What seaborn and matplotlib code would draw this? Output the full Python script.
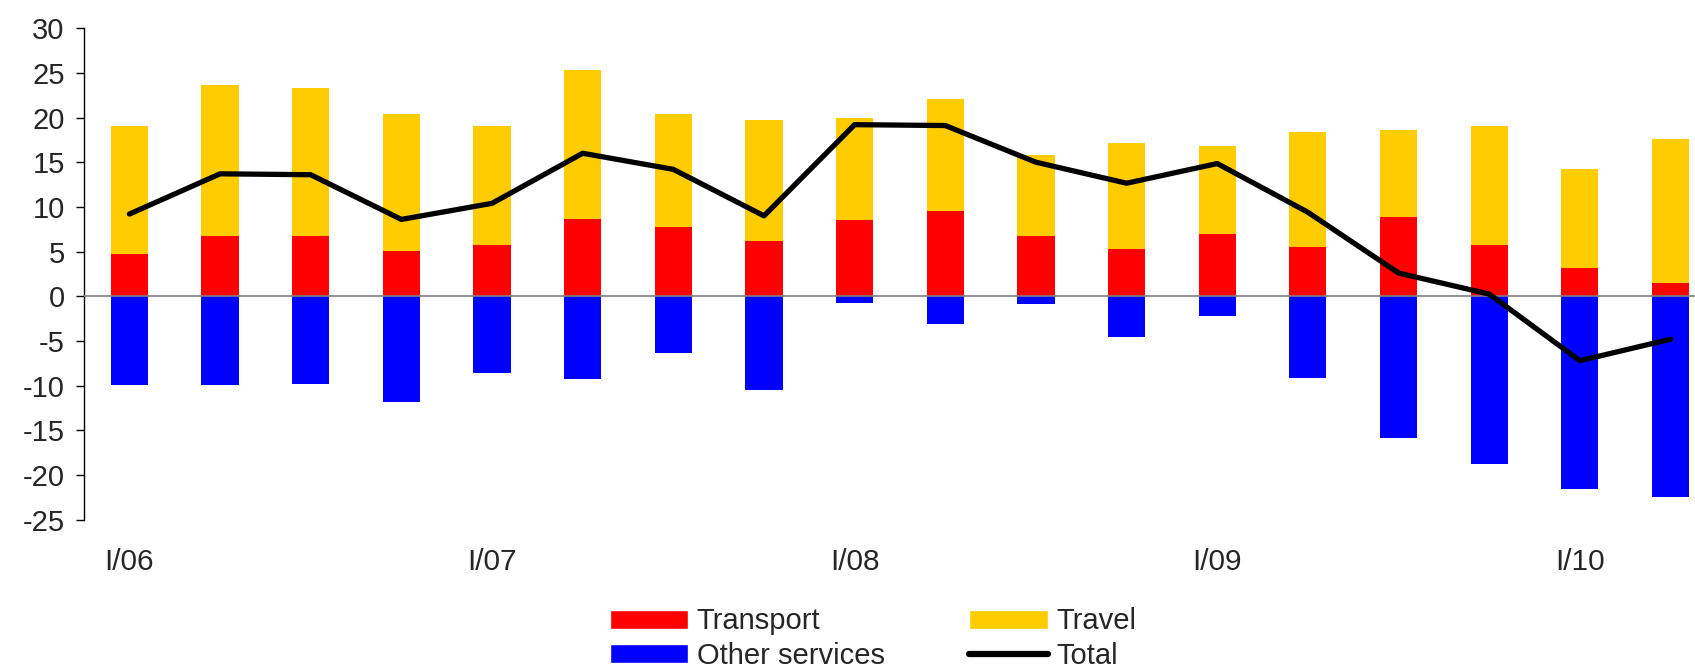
import numpy as np
import pandas as pd
import matplotlib
matplotlib.use("Agg")
import matplotlib.pyplot as plt
import seaborn as sns
from matplotlib.patches import Patch
from matplotlib.lines import Line2D

quarters = ["I/06", "II/06", "III/06", "IV/06",
            "I/07", "II/07", "III/07", "IV/07",
            "I/08", "II/08", "III/08", "IV/08",
            "I/09", "II/09", "III/09", "IV/09",
            "I/10", "II/10"]
transport = [4.7, 6.7, 6.7, 5.1, 5.7, 8.7, 7.75, 6.2, 8.5,
             9.55, 6.7, 5.3, 7.0, 5.5, 8.9, 5.7, 3.2, 1.5]
travel = [14.3, 16.9, 16.6, 15.3, 13.4, 16.6, 12.65, 13.5, 11.4,
          12.55, 9.15, 11.8, 9.85, 12.9, 9.7, 13.3, 11.0, 16.1]
other = [-9.9, -9.9, -9.8, -11.8, -8.6, -9.3, -6.3, -10.5, -0.8,
         -3.05, -0.9, -4.5, -2.15, -9.1, -15.9, -18.8, -21.5, -22.5]
total = [9.2, 13.7, 13.6, 8.6, 10.4, 16.0, 14.2, 9.0, 19.2,
         19.1, 15.0, 12.65, 14.85, 9.4, 2.6, 0.25, -7.2, -4.8]
tick_pos = [0, 4, 8, 12, 16]
tick_labels = ["I/06", "I/07", "I/08", "I/09", "I/10"]

df = pd.DataFrame({"quarter": quarters, "transport": transport,
                   "travel": travel, "other": other, "total": total})
df["top"] = df["transport"] + df["travel"]

RED = "#FF0000"
YELLOW = "#FFCC00"
BLUE = "#0000FF"

sns.set_style("white")
plt.rcParams["font.family"] = ["Liberation Sans", "DejaVu Sans"]
plt.rcParams["axes.unicode_minus"] = False

fig = plt.figure(figsize=(16.95, 6.69), dpi=100)
ax = fig.add_axes([0.0496, 0.223, 0.9504, 0.735])

# travel sits on transport: draw the full height in yellow, then transport over it
sns.barplot(data=df, x="quarter", y="top", color=YELLOW, width=0.41,
            saturation=1, linewidth=0, ax=ax, zorder=2)
sns.barplot(data=df, x="quarter", y="transport", color=RED, width=0.41,
            saturation=1, linewidth=0, ax=ax, zorder=3)
sns.barplot(data=df, x="quarter", y="other", color=BLUE, width=0.41,
            saturation=1, linewidth=0, ax=ax, zorder=3)
ax.axhline(0, color="#808080", lw=1.2, zorder=4)
sns.lineplot(x=np.arange(len(total)), y=total, color="black", lw=3.8,
             ax=ax, zorder=5, solid_capstyle="round")

ax.set_ylim(-25, 30)
ax.set_yticks(range(-25, 31, 5))
ax.set_xlim(-0.5, 17.27)
ax.set_xticks(tick_pos)
ax.set_xticklabels(tick_labels)
ax.set_xlabel("")
ax.set_ylabel("")

for s in ["top", "right", "bottom"]:
    ax.spines[s].set_visible(False)
ax.spines["left"].set_color("black")
ax.spines["left"].set_linewidth(1)
ax.tick_params(axis="y", direction="out", length=6, width=1, color="black",
               labelsize=21, pad=8, left=True)
ax.tick_params(axis="x", length=0, labelsize=21.5, pad=20)

# order so that rows read Transport/Travel, Other services/Total
handles = [Patch(facecolor=RED, label="Transport"),
           Patch(facecolor=BLUE, label="Other services"),
           Patch(facecolor=YELLOW, label="Travel"),
           Line2D([], [], color="black", lw=4.5, solid_capstyle="round", label="Total")]
fig.legend(handles=handles, ncol=2, loc="upper center",
           bbox_to_anchor=(0.515, 0.127), frameon=False, fontsize=21,
           handlelength=2.7, handleheight=0.62, handletextpad=0.28,
           columnspacing=2.9, labelspacing=0.22, borderpad=0.3)

fig.savefig("out.png", dpi=100)
